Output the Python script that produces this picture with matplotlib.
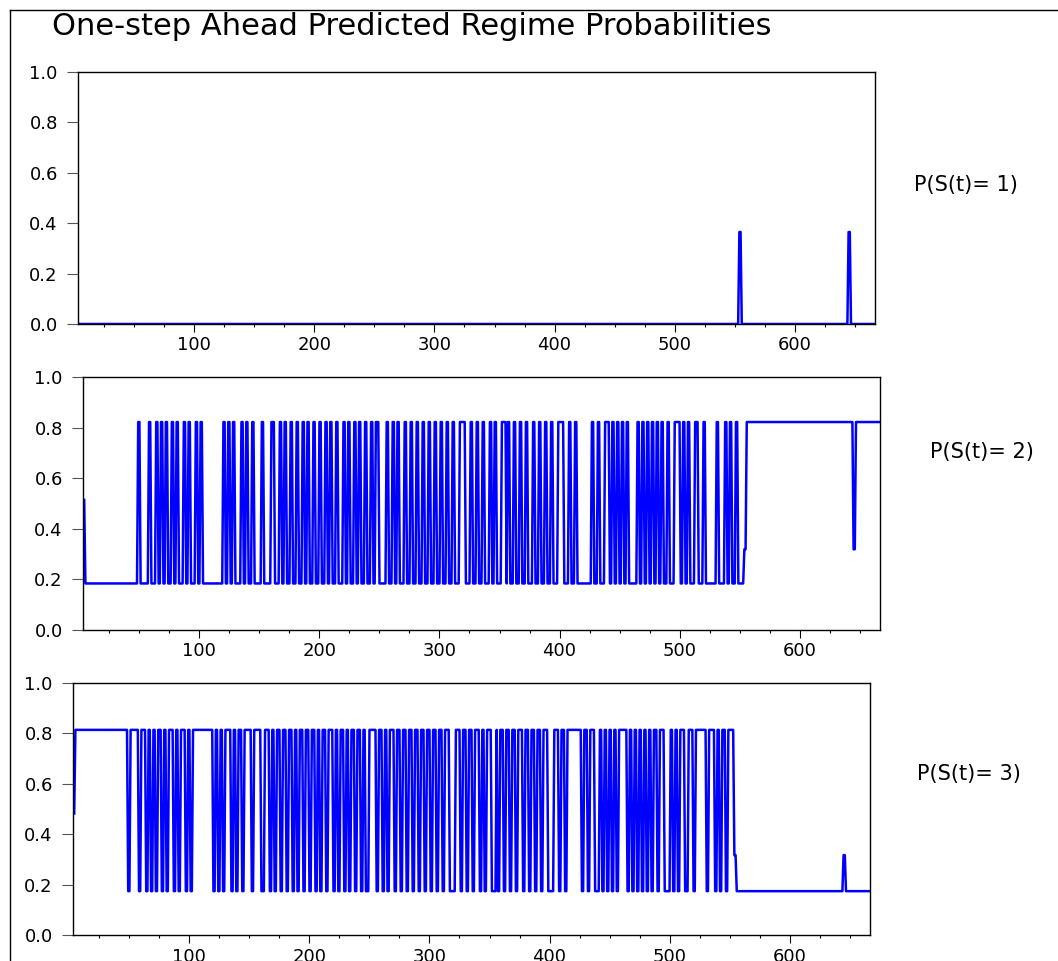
import numpy as np
import matplotlib
matplotlib.use("Agg")
import matplotlib.pyplot as plt
from matplotlib.lines import Line2D
from matplotlib.ticker import MultipleLocator, FormatStrFormatter

# -----------------------------------------------------------------------
# Data
# -----------------------------------------------------------------------
T_FIRST, T_LAST = 4, 667

# predicted probabilities (P1, P2, P3) at the first observation
p_init = [0.0, 0.514, 0.482]

# predicted probabilities given the previous regime
p_after_1 = [0.365, 0.319, 0.317]
p_after_2 = [0.0, 0.822, 0.174]
p_after_3 = [0.0, 0.184, 0.814]

# runs where the previous regime was 2 (start, length); everything else
# (apart from the regime-1 runs) is regime 3
regime2_runs = [
    (49, 2), (58, 2), (64, 2), (68, 2), (72, 2), (77, 2), (81, 2), (87, 2),
    (91, 2), (97, 2), (101, 2),
    (120, 2), (124, 2), (128, 2), (135, 2), (139, 2), (144, 2), (152, 2),
    (160, 3), (167, 2), (171, 2), (176, 2), (181, 2), (186, 2), (190, 2),
    (195, 2), (200, 2), (205, 2), (209, 2), (214, 2), (220, 2), (224, 2),
    (229, 2), (233, 2), (238, 2), (243, 2), (247, 3),
    (256, 2), (261, 2), (265, 2), (271, 2), (276, 2), (281, 2), (286, 2),
    (291, 2), (296, 2), (301, 2), (306, 2), (311, 2), (317, 5), (326, 2),
    (331, 2), (336, 2), (342, 2), (346, 2), (352, 4), (357, 2), (362, 2),
    (367, 2), (372, 2), (378, 2), (383, 2), (388, 2), (393, 2), (399, 5),
    (408, 2), (413, 2),
    (427, 2), (432, 2), (438, 4), (444, 2), (448, 2), (452, 2), (456, 2),
    (465, 2), (469, 2), (473, 2), (477, 2), (481, 2), (485, 2), (490, 2),
    (496, 5), (503, 2), (507, 2), (513, 3), (520, 2), (531, 2), (538, 2),
    (542, 2), (547, 2),
    (556, 89), (647, 21),
]
regime1_runs = [(554, 2), (645, 2)]

panel_labels = ["P(S(t)= 1)", "P(S(t)= 2)", "P(S(t)= 3)"]
title = "One-step Ahead Predicted Regime Probabilities"

# -----------------------------------------------------------------------
# Build the series
# -----------------------------------------------------------------------
t = np.arange(T_FIRST, T_LAST + 1)
prev = np.full(t.size, 3)
for s, n in regime2_runs:
    prev[(t >= s) & (t < s + n)] = 2
for s, n in regime1_runs:
    prev[(t >= s) & (t < s + n)] = 1

table = {1: p_after_1, 2: p_after_2, 3: p_after_3}
probs = np.array([table[r] for r in prev])
probs[0] = p_init

# -----------------------------------------------------------------------
# Figure
# -----------------------------------------------------------------------
plt.rcParams["font.family"] = "DejaVu Sans"
W, H = 1058, 961
fig = plt.figure(figsize=(W / 100, H / 100), dpi=100)

# axes boxes in pixels: left, top, right, bottom
boxes = [(78, 72, 875, 324), (83, 377, 880, 630), (73, 683, 870, 935)]
label_pos = [(966, 185), (982, 452), (969, 774)]

for k, (l, tp, r, b) in enumerate(boxes):
    ax = fig.add_axes([l / W, 1 - b / H, (r - l) / W, (b - tp) / H])
    ax.plot(t, probs[:, k], color="#0000ff", lw=1.8)
    ax.set_xlim(3, T_LAST)
    ax.set_ylim(0, 1)
    ax.yaxis.set_major_locator(MultipleLocator(0.2))
    ax.yaxis.set_major_formatter(FormatStrFormatter("%.1f"))
    ax.xaxis.set_major_locator(MultipleLocator(100))
    ax.xaxis.set_minor_locator(MultipleLocator(25))
    ax.tick_params(axis="y", direction="out", length=8, width=0.8,
                   color="#555555", pad=6.5, labelsize=13)
    ax.tick_params(axis="x", which="major", direction="out", length=5.5,
                   width=0.8, pad=3.5, labelsize=13)
    ax.tick_params(axis="x", which="minor", direction="out", length=2.5,
                   width=0.8)
    for sp in ax.spines.values():
        sp.set_linewidth(1.0)
        sp.set_color("black")
    fig.text(label_pos[k][0] / W, 1 - label_pos[k][1] / H, panel_labels[k],
             ha="center", va="center", fontsize=15)

fig.text(52 / W, 1 - 35 / H, title, ha="left", va="baseline", fontsize=22)

# outer frame (left and top edges visible)
fig.add_artist(Line2D([10 / W, 10 / W], [0, 1 - 10 / H], color="black",
                      lw=1.0, transform=fig.transFigure))
fig.add_artist(Line2D([10 / W, 1], [1 - 10 / H, 1 - 10 / H], color="black",
                      lw=1.0, transform=fig.transFigure))

fig.savefig("out.png", dpi=100)
